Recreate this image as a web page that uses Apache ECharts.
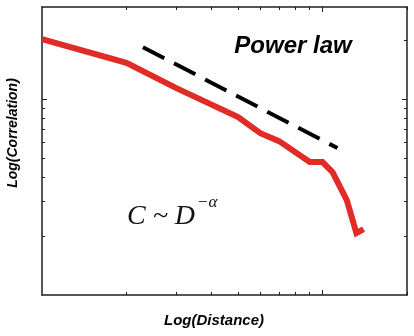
<!DOCTYPE html>
<html>
<head>
<meta charset="utf-8">
<script src="https://cdn.jsdelivr.net/npm/echarts@6/dist/echarts.min.js"></script>
<style>
  html, body { margin: 0; padding: 0; background: #fff; }
  #chart { width: 414px; height: 336px; }
</style>
</head>
<body>
<div id="chart"></div>
<script>
// measured curve (log-log)
var distance = [1, 2, 3, 5, 6, 7, 9, 10, 10.85, 12.2, 13.2, 14];
var correlation = [20.2, 15.3, 11.4, 8.1, 6.7, 6.1, 4.77, 4.77, 4.24, 3.05, 2.07, 2.17];

// reference power law (dashed)
var guideX = [2.29, 11.3];
var guideY = [18.4, 5.62];

// tick positions
var xMinorTicks = [2, 3, 4, 5, 6, 7, 8, 9, 20];
var xMajorTicks = [10];
var yMinorTicks = [2, 3, 4, 5, 6, 7, 8, 9, 20];
var yMajorTicks = [10];

var dom = document.getElementById('chart');
var chart = echarts.init(dom);

var axisColor = '#1e1e1e';

// one log axis; several share a side so minor/major ticks can differ in length
function logAxis(pos, min, max, ticks, len, showLine) {
    return {
        type: 'log',
        logBase: 10,
        min: min,
        max: max,
        position: pos,
        axisLine: { show: showLine, onZero: false, lineStyle: { color: axisColor, width: 1.5 } },
        axisTick: { show: true, inside: true, length: len, customValues: ticks, lineStyle: { color: axisColor, width: 1 } },
        axisLabel: { show: false },
        splitLine: { show: false },
        minorTick: { show: false }
    };
}

var line = [], guide = [];
distance.forEach(function (d, i) { line.push([d, correlation[i]]); });
guideX.forEach(function (d, i) { guide.push([d, guideY[i]]); });

var option = {
    animation: false,
    grid: { left: 42, right: 7, top: 7, bottom: 41 },
    xAxis: [
        logAxis('bottom', 1, 20, xMinorTicks, 3, true),
        logAxis('bottom', 1, 20, xMajorTicks, 5, false),
        logAxis('top', 1, 20, xMinorTicks, 3, true),
        logAxis('top', 1, 20, xMajorTicks, 5, false)
    ],
    yAxis: [
        logAxis('left', 1, 29.5, yMinorTicks, 3, true),
        logAxis('left', 1, 29.5, yMajorTicks, 5, false),
        logAxis('right', 1, 29.5, yMinorTicks, 3, true),
        logAxis('right', 1, 29.5, yMajorTicks, 5, false)
    ],
    series: [
        {
            type: 'line',
            name: 'correlation',
            data: line,
            symbol: 'none',
            lineStyle: { color: '#e02b26', width: 6, join: 'miter' },
            clip: false
        },
        {
            type: 'line',
            name: 'power law',
            data: guide,
            symbol: 'none',
            lineStyle: { color: '#000', width: 4, type: [24, 11] }
        }
    ],
    graphic: [
        {
            type: 'text', x: 293, y: 46,
            style: {
                text: 'Power law', align: 'center', verticalAlign: 'middle',
                font: 'italic bold 24px "Liberation Sans", Arial, sans-serif', fill: '#000'
            }
        },
        {
            type: 'text', x: 127, y: 217,
            style: {
                text: 'C ~ D', align: 'left', verticalAlign: 'middle',
                font: 'italic 28px "Liberation Serif", "Times New Roman", serif', fill: '#111'
            }
        },
        {
            type: 'text', x: 197, y: 203,
            style: {
                text: '−α', align: 'left', verticalAlign: 'middle',
                font: 'italic 17px "Liberation Serif", "Times New Roman", serif', fill: '#111'
            }
        },
        {
            type: 'text', x: 214, y: 321,
            style: {
                text: 'Log(Distance)', align: 'center', verticalAlign: 'middle',
                font: 'italic bold 15px "Liberation Sans", Arial, sans-serif', fill: '#000'
            }
        },
        {
            type: 'text', x: 13, y: 133, rotation: Math.PI / 2,
            style: {
                text: 'Log(Correlation)', align: 'center', verticalAlign: 'middle',
                font: 'italic bold 14px "Liberation Sans", Arial, sans-serif', fill: '#000'
            }
        }
    ]
};

chart.setOption(option);
</script>
</body>
</html>
